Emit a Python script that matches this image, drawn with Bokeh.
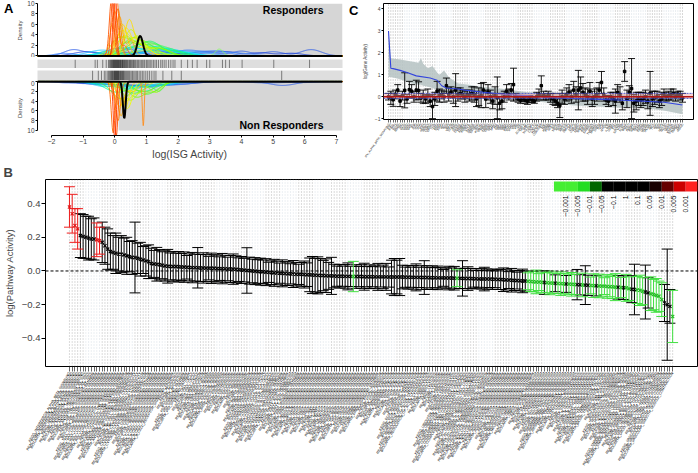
import numpy as np
from bokeh.plotting import figure
from bokeh.models import Range1d, FixedTicker, Span, BoxAnnotation, LinearAxis, Title
from bokeh.layouts import column, row
from bokeh.embed import file_html
from bokeh.resources import INLINE
from bokeh.core.properties import value

FONT = "Liberation Sans"
M = "\u2212"

# ======================= Panel A data =======================
A_x_ticks = [-2, -1, 0, 1, 2, 3, 4, 5, 6, 7]
A_density_ticks = [0, 2, 4, 6, 8, 10]
A_shade_start = 0.12

resp_rug = [-1.25, -0.62, -0.55, -0.38, -0.27, -0.2, -0.17, -0.14, -0.12, -0.1, -0.08, -0.06,
            -0.05, -0.03, -0.02, 0.0, 0.01, 0.03, 0.04, 0.06, 0.07, 0.09, 0.1, 0.12, 0.13, 0.15,
            0.17, 0.18, 0.2, 0.22, 0.24, 0.25, 0.27, 0.29, 0.31, 0.33, 0.35, 0.37, 0.4, 0.42,
            0.45, 0.47, 0.5, 0.52, 0.55, 0.58, 0.6, 0.63, 0.66, 0.7, 0.73, 0.76, 0.8, 0.84,
            0.88, 0.92, 0.95, 1.0, 1.04, 1.08, 1.12, 1.17, 1.22, 1.27, 1.32, 1.38, 1.45, 1.5,
            1.56, 1.62, 1.7, 1.77, 1.84, 1.9, 2.1, 2.3, 2.45, 2.6, 2.9, 3.0, 3.4, 3.5, 3.62,
            4.02, 5.02, 6.15]
nonresp_rug = [-0.7, -0.52, -0.42, -0.33, -0.28, -0.22, -0.19, -0.16, -0.13, -0.11, -0.09,
               -0.07, -0.05, -0.03, -0.01, 0.0, 0.02, 0.03, 0.05, 0.06, 0.08, 0.09, 0.11, 0.12,
               0.14, 0.16, 0.18, 0.2, 0.22, 0.24, 0.26, 0.28, 0.3, 0.33, 0.36, 0.39, 0.42, 0.45,
               0.48, 0.52, 0.56, 0.6, 0.64, 0.68, 0.72, 0.77, 0.82, 0.87, 0.92, 0.98, 1.04, 1.1,
               1.17, 1.24, 1.3, 1.52, 1.8, 2.1, 5.27]

# gene density curves: list of (centre, height, width) bumps per curve
resp_curve_colors = ["#2f5fe8", "#1a3fd9", "#3380ff", "#33a6ff", "#1ac6ff", "#4d94ff",
                     "#00e0ff", "#00f2ff", "#00ffbf", "#00ff99", "#1aff66", "#8cff66",
                     "#33ff4d", "#4dff33", "#66ff1a", "#80ff00", "#99ff00", "#b3ff00",
                     "#bfff00", "#ccff00", "#e6ff00", "#ffee00", "#ffe000", "#ffd500",
                     "#ffa600", "#ff9900", "#ff8000", "#ff6600", "#ff5500", "#ff4d00", "#ff3300"]
resp_curve_bumps = [
    [(-1.3, 1.2, 0.3), (-0.6, 0.6, 0.25), (0.5, 0.7, 0.4), (1.8, 0.6, 0.4), (3.0, 0.6, 0.35),
     (4.0, 0.9, 0.3), (5.0, 0.8, 0.33), (6.2, 1.2, 0.33)],
    [(-0.9, 0.8, 0.4), (1.2, 1.0, 0.5), (2.8, 0.8, 0.4), (3.6, 0.7, 0.3), (4.6, 0.6, 0.35),
     (5.6, 0.5, 0.35)],
    [(-1.6, 0.5, 0.3), (0.2, 1.5, 0.5), (2.3, 1.1, 0.45), (3.3, 0.9, 0.35)],
    [(0.8, 1.4, 0.8), (2.6, 0.6, 0.5)],
    [(-0.4, 1.1, 0.45), (1.5, 1.2, 0.6)],
    [(2.0, 1.0, 0.9), (3.8, 0.5, 0.5)],
    [(1.6, 1.4, 0.55)],
    [(0.5, 1.6, 0.6), (2.2, 0.7, 0.4)],
    [(1.3, 1.8, 0.5), (-0.3, 0.8, 0.3)],
    [(0.9, 2.2, 0.55)],
    [(1.1, 2.8, 0.35), (2.0, 0.8, 0.3)],
    [(3.3, 1.3, 0.12), (1.0, 1.0, 0.5)],
    [(1.0, 2.6, 0.45), (1.8, 0.8, 0.3)],
    [(0.4, 2.5, 0.3), (1.2, 2.2, 0.35)],
    [(0.8, 3.0, 0.4)],
    [(0.6, 3.5, 0.35), (1.5, 1.2, 0.3)],
    [(0.1, 2.8, 0.25), (0.6, 2.5, 0.3), (1.4, 1.5, 0.3)],
    [(0.3, 3.5, 0.25), (0.9, 2.0, 0.3)],
    [(0.7, 3.8, 0.28)],
    [(0.5, 4.8, 0.2), (1.1, 1.5, 0.3)],
    [(0.2, 4.0, 0.2), (0.7, 3.0, 0.3)],
    [(0.35, 5.2, 0.18), (0.9, 1.5, 0.25)],
    [(0.45, 6.5, 0.14), (0.8, 2.0, 0.2)],
    [(0.25, 6.0, 0.15)],
    [(0.15, 7.5, 0.1), (0.5, 3.0, 0.12)],
    [(0.0, 8.5, 0.12)],
    [(0.1, 9.0, 0.09)],
    [(0.05, 12.0, 0.07), (0.3, 2.0, 0.1)],
    [(-0.1, 11.0, 0.07)],
    [(-0.05, 13.0, 0.06)],
    [(0.0, 15.0, 0.05)],
]
resp_isg_curve = [(0.8, 3.8, 0.09)]

nonresp_curve_colors = ["#2f5fe8", "#1a3fd9", "#3380ff", "#4d7fff", "#1ac6ff", "#00e6ff",
                        "#00ffd0", "#00ff99", "#1aff80", "#33ff4d", "#4dff33", "#66ff1a",
                        "#80ff00", "#99ff00", "#aaff00", "#ccff00", "#ffd000", "#f2ff00",
                        "#ffe600", "#ffaa00", "#ff8000", "#ff8c1a", "#ff6a00", "#ff5000", "#ff3300"]
nonresp_curve_bumps = [
    [(-1.0, 0.4, 0.4), (0.3, 0.8, 0.5), (1.5, 0.6, 0.5), (5.3, 0.8, 0.4)],
    [(-0.5, 0.6, 0.5), (1.0, 0.9, 0.6), (2.2, 0.4, 0.5)],
    [(0.6, 1.1, 0.7), (2.0, 0.5, 0.5)],
    [(-1.5, 0.3, 0.3), (4.8, 0.3, 0.5), (6.0, 0.2, 0.4)],
    [(-0.3, 1.0, 0.4), (1.0, 1.2, 0.5)],
    [(0.2, 1.2, 0.6), (1.5, 0.7, 0.4)],
    [(0.5, 1.5, 0.55)],
    [(0.1, 2.2, 0.4)],
    [(0.9, 2.0, 0.4)],
    [(0.6, 2.4, 0.35), (1.4, 1.8, 0.15)],
    [(1.0, 2.6, 0.35)],
    [(0.2, 3.5, 0.3), (1.0, 2.0, 0.25)],
    [(0.7, 3.2, 0.3), (1.3, 1.5, 0.2)],
    [(1.3, 2.2, 0.2), (0.4, 2.0, 0.3)],
    [(0.5, 3.8, 0.25)],
    [(0.3, 4.0, 0.22), (0.8, 2.0, 0.2)],
    [(0.15, 5.0, 0.15), (0.6, 2.0, 0.15)],
    [(0.4, 5.5, 0.15)],
    [(0.3, 6.0, 0.13)],
    [(0.2, 7.0, 0.1)],
    [(0.1, 8.0, 0.08)],
    [(0.9, 9.0, 0.03)],
    [(-0.05, 10.5, 0.06)],
    [(0.05, 11.0, 0.05)],
    [(0.0, 12.0, 0.045)],
]
nonresp_isg_curve = [(0.3, 7.5, 0.045)]

# ======================= Panel B data =======================
B_mean = [
    0.380, 0.340, 0.270, 0.250, 0.210, 0.205, 0.200, 0.195, 0.190, 0.190,
    0.185, 0.180, 0.170, 0.150, 0.130, 0.115, 0.110, 0.105, 0.100, 0.100,
    0.095, 0.090, 0.085, 0.080, 0.080, 0.075, 0.070, 0.065, 0.060, 0.055,
    0.045, 0.042, 0.040, 0.037, 0.034, 0.030, 0.028, 0.027, 0.026, 0.026,
    0.025, 0.024, 0.023, 0.022, 0.021, 0.020, 0.020, 0.019, 0.018, 0.018,
    0.017, 0.017, 0.016, 0.016, 0.015, 0.014, 0.014, 0.013, 0.012, 0.012,
    0.011, 0.010, 0.008, 0.006, 0.005, 0.003, 0.002, 0.000, -0.001, -0.003,
    -0.004, -0.005, -0.007, -0.008, -0.010, -0.011, -0.012, -0.013, -0.014, -0.015,
    -0.016, -0.017, -0.018, -0.019, -0.020, -0.020, -0.021, -0.022, -0.023, -0.024,
    -0.025, -0.026, -0.027, -0.027, -0.028, -0.029, -0.029, -0.030, -0.031, -0.031,
    -0.031, -0.032, -0.032, -0.032, -0.033, -0.033, -0.033, -0.033, -0.034, -0.034,
    -0.034, -0.034, -0.035, -0.035, -0.035, -0.035, -0.035, -0.036, -0.036, -0.036,
    -0.036, -0.036, -0.036, -0.037, -0.037, -0.037, -0.038, -0.038, -0.038, -0.039,
    -0.039, -0.039, -0.040, -0.040, -0.040, -0.041, -0.041, -0.041, -0.042, -0.042,
    -0.042, -0.043, -0.043, -0.044, -0.044, -0.045, -0.045, -0.045, -0.046, -0.046,
    -0.047, -0.047, -0.048, -0.048, -0.048, -0.049, -0.049, -0.050, -0.050, -0.052,
    -0.053, -0.054, -0.055, -0.056, -0.057, -0.058, -0.059, -0.060, -0.061, -0.062,
    -0.064, -0.065, -0.066, -0.067, -0.069, -0.070, -0.071, -0.072, -0.073, -0.074,
    -0.075, -0.076, -0.077, -0.078, -0.079, -0.080, -0.081, -0.082, -0.083, -0.084,
    -0.085, -0.086, -0.087, -0.088, -0.089, -0.090, -0.090, -0.092, -0.093, -0.094,
    -0.096, -0.097, -0.098, -0.099, -0.100, -0.105, -0.108, -0.110, -0.113, -0.115,
    -0.120, -0.125, -0.130, -0.135, -0.140, -0.145, -0.150, -0.170, -0.190, -0.200,
    -0.210, -0.270]
B_err = [
    0.12, 0.115, 0.10, 0.12, 0.13, 0.13, 0.125, 0.13, 0.12, 0.125,
    0.10, 0.08, 0.12, 0.11, 0.12, 0.11, 0.10, 0.12, 0.10, 0.11,
    0.10, 0.11, 0.09, 0.10, 0.21, 0.09, 0.10, 0.08, 0.09, 0.10,
    0.09, 0.08, 0.10, 0.09, 0.08, 0.09, 0.10, 0.08, 0.09, 0.08,
    0.09, 0.08, 0.09, 0.07, 0.08, 0.09, 0.08, 0.12, 0.08, 0.09,
    0.08, 0.07, 0.09, 0.08, 0.08, 0.07, 0.09, 0.08, 0.07, 0.08,
    0.09, 0.08, 0.07, 0.08, 0.07, 0.135, 0.08, 0.07, 0.08, 0.07,
    0.08, 0.07, 0.08, 0.06, 0.07, 0.08, 0.07, 0.06, 0.08, 0.07,
    0.07, 0.06, 0.08, 0.07, 0.06, 0.07, 0.08, 0.07, 0.10, 0.11,
    0.10, 0.11, 0.10, 0.09, 0.10, 0.08, 0.11, 0.07, 0.06, 0.07,
    0.06, 0.07, 0.08, 0.06, 0.09, 0.07, 0.06, 0.07, 0.08, 0.06,
    0.07, 0.06, 0.07, 0.08, 0.06, 0.07, 0.08, 0.06, 0.10, 0.11,
    0.10, 0.11, 0.07, 0.06, 0.07, 0.06, 0.07, 0.08, 0.06, 0.07,
    0.10, 0.07, 0.06, 0.07, 0.06, 0.07, 0.06, 0.05, 0.06, 0.07,
    0.06, 0.07, 0.05, 0.06, 0.105, 0.06, 0.07, 0.06, 0.05, 0.06,
    0.05, 0.06, 0.07, 0.06, 0.05, 0.06, 0.05, 0.06, 0.06, 0.07,
    0.06, 0.05, 0.07, 0.06, 0.05, 0.06, 0.07, 0.06, 0.05, 0.06,
    0.06, 0.07, 0.05, 0.06, 0.07, 0.06, 0.07, 0.06, 0.05, 0.06,
    0.07, 0.06, 0.05, 0.06, 0.07, 0.06, 0.09, 0.06, 0.07, 0.115,
    0.06, 0.05, 0.07, 0.06, 0.07, 0.06, 0.05, 0.07, 0.06, 0.07,
    0.08, 0.07, 0.06, 0.07, 0.08, 0.07, 0.08, 0.15, 0.08, 0.09,
    0.08, 0.16, 0.09, 0.10, 0.09, 0.10, 0.09, 0.10, 0.11, 0.33,
    0.10, 0.155]
B_red = [0, 1, 2, 3, 10, 11]
B_green = [104, 142, 168, 169, 170, 171, 172, 173, 175, 176, 177, 179, 180, 181, 183, 184,
           185, 188, 191, 192, 194, 195, 196, 197, 198, 199, 200, 202, 204, 205, 208, 209,
           210, 213, 214, 215, 216, 217, 221]
B_y_ticks = [-0.4, -0.2, 0.0, 0.2, 0.4]
B_y_labels = [M + "0.4", M + "0.2", "0.0", "0.2", "0.4"]
B_key_labels = [M + "0.001", M + "0.005", M + "0.01", M + "0.05", M + "0.1", "1",
                "0.1", "0.05", "0.01", "0.005", "0.001"]
B_key_colors = ["#44ee33", "#44ee33", "#22dd22", "#006600", "#000000", "#000000",
                "#000000", "#000000", "#1a0000", "#660000", "#cc0000", "#ff2020"]
B_sources = ["KEGG_", "REACTOME_", "BIOCARTA_"]
B_pathways = [
    "INTERFERON_ALPHA_BETA_SIGNALING", "INTERFERON_GAMMA_SIGNALING", "ANTIVIRAL_MECHANISM_BY_ISGS",
    "JAK_STAT_SIGNALING_PATHWAY", "TOLL_LIKE_RECEPTOR_SIGNALING_PATHWAY",
    "RIG_I_LIKE_RECEPTOR_SIGNALING_PATHWAY", "CYTOSOLIC_DNA_SENSING_PATHWAY",
    "ANTIGEN_PROCESSING_AND_PRESENTATION", "NK_CELL_MEDIATED_CYTOTOXICITY",
    "CYTOKINE_CYTOKINE_RECEPTOR_INTERACTION", "CHEMOKINE_SIGNALING_PATHWAY",
    "T_CELL_RECEPTOR_SIGNALING_PATHWAY", "B_CELL_RECEPTOR_SIGNALING_PATHWAY", "APOPTOSIS",
    "P53_SIGNALING_PATHWAY", "CELL_CYCLE", "DNA_REPLICATION", "MISMATCH_REPAIR",
    "BASE_EXCISION_REPAIR", "PROTEASOME", "SPLICEOSOME", "RIBOSOME", "RNA_DEGRADATION",
    "OXIDATIVE_PHOSPHORYLATION", "CITRATE_CYCLE_TCA_CYCLE", "GLYCOLYSIS_GLUCONEOGENESIS",
    "PENTOSE_PHOSPHATE_PATHWAY", "FATTY_ACID_METABOLISM", "PPAR_SIGNALING_PATHWAY",
    "INSULIN_SIGNALING_PATHWAY", "MTOR_SIGNALING_PATHWAY", "MAPK_SIGNALING_PATHWAY",
    "WNT_SIGNALING_PATHWAY", "NOTCH_SIGNALING_PATHWAY", "HEDGEHOG_SIGNALING_PATHWAY",
    "TGF_BETA_SIGNALING_PATHWAY", "VEGF_SIGNALING_PATHWAY", "ERBB_SIGNALING_PATHWAY",
    "FOCAL_ADHESION", "ADHERENS_JUNCTION", "TIGHT_JUNCTION", "GAP_JUNCTION",
    "ECM_RECEPTOR_INTERACTION", "REGULATION_OF_ACTIN_CYTOSKELETON", "ENDOCYTOSIS", "LYSOSOME",
    "PEROXISOME", "UBIQUITIN_MEDIATED_PROTEOLYSIS", "COMPLEMENT_AND_COAGULATION_CASCADES",
    "HEMATOPOIETIC_CELL_LINEAGE", "FC_GAMMA_R_MEDIATED_PHAGOCYTOSIS",
    "LEUKOCYTE_TRANSENDOTHELIAL_MIGRATION", "NOD_LIKE_RECEPTOR_SIGNALING_PATHWAY",
    "ADIPOCYTOKINE_SIGNALING_PATHWAY", "CALCIUM_SIGNALING_PATHWAY",
    "NEUROTROPHIN_SIGNALING_PATHWAY", "GNRH_SIGNALING_PATHWAY", "PURINE_METABOLISM",
    "PYRIMIDINE_METABOLISM", "GLUTATHIONE_METABOLISM", "ARGININE_AND_PROLINE_METABOLISM",
    "TRYPTOPHAN_METABOLISM", "STEROID_BIOSYNTHESIS", "N_GLYCAN_BIOSYNTHESIS",
    "AMINOACYL_TRNA_BIOSYNTHESIS", "BASAL_TRANSCRIPTION_FACTORS", "RNA_POLYMERASE",
    "HOMOLOGOUS_RECOMBINATION", "NUCLEOTIDE_EXCISION_REPAIR",
    "SNARE_INTERACTIONS_VESICULAR_TRANSPORT", "PRIMARY_BILE_ACID_BIOSYNTHESIS",
    "DRUG_METABOLISM_CYTOCHROME_P450", "LONG_TERM_POTENTIATION",
    "VASCULAR_SMOOTH_MUSCLE_CONTRACTION"]

# ======================= Panel C data =======================
C_labels = [
    "IFN_ALPHA_BETA_SIGNALING",
    "IFI27", "IFI44L", "IFIT1", "ISG15", "RSAD2", "MX1", "OAS1", "OAS2", "OAS3", "OASL",
    "IFI6", "IFIT3", "IFIT2", "IFIT5", "IFI44", "HERC5", "HERC6", "CMPK2", "EPSTI1", "LY6E",
    "XAF1", "STAT1", "STAT2", "IRF7", "IRF9", "IRF1", "USP18", "DDX58", "IFIH1", "DDX60",
    "DDX60L", "PARP9", "PARP12", "PARP14", "DTX3L", "SAMD9", "SAMD9L", "EIF2AK2", "BST2", "PLSCR1",
    "TRIM22", "TRIM5", "TRIM21", "TRIM25", "SP100", "SP110", "PML", "GBP1", "GBP2", "GBP4",
    "GBP5", "IFITM1", "IFITM2", "IFITM3", "IFI35", "IFI16", "MX2", "ZC3HAV1", "HELZ2", "RTP4",
    "SIGLEC1", "LAMP3", "CXCL10", "CXCL11", "TNFSF10", "LGALS3BP", "NMI", "TAP1", "PSMB8", "PSMB9",
    "HLA-E", "B2M", "SOCS1", "ADAR", "ISG20", "APOL6", "SLFN5", "UBE2L6", "LAP3", "CD274",
    "LGALS9", "TDRD7", "NT5C3A", "RNF213", "ZNFX1", "TRIM14", "SAMHD1", "CGAS", "TMEM140", "SPATS2L",
    "DHX58", "TLR3", "TLR7", "MYD88", "IL15", "IL15RA", "CASP1", "IFI30", "CD38", "SECTM1",
    "TYMP", "NLRC5", "BATF2", "ETV7", "FBXO6", "PNPT1", "RBCK1", "SP140", "STAT4", "TRIM38",
    "CH25H", "IFNAR1", "IFNAR2", "JAK1", "TYK2", "IRF2", "IRF5", "IRF8", "MOV10", "NCOA7",
    "OGFR", "PHF11", "RNASEL", "SLC15A3", "TRANK1", "ZBP1", "HSH2D"]
C_mean = [
    0.0, -0.05, -0.14, 0.1, 0.3, -0.2, 0.05, 0.29, -0.1, 0.32,
    0.25, 0.0, 0.3, 0.28, -0.05, 0.0, -0.1, 0.05, -0.2, -0.45,
    -0.1, 0.25, 0.05, 0.1, 0.0, 0.5, 0.1, 0.2, 0.0, 0.3,
    0.1, 0.15, 0.1, 0.0, 0.1, 0.05, 0.15, 0.1, -0.1, 0.0,
    0.05, 0.3, -0.1, 0.2, 0.0, -0.2, 0.05, -0.05, -0.3, -0.2,
    0.0, 0.25, 0.1, 0.3, 0.55, 0.0, -0.1, -0.15, -0.1, -0.15,
    -0.2, -0.1, -0.15, -0.2, 0.0, 0.1, 0.5, 0.05, 0.0, 0.05,
    -0.05, -0.1, -0.2, -0.3, -0.4, 0.0, -0.1, 0.1, 0.2, 0.0,
    0.3, 0.1, 0.3, 0.4, 0.2, 0.1, 0.0, 0.25, -0.1, 0.0,
    0.1, 0.3, 0.65, 0.1, -0.15, -0.2, 0.0, -0.1, -0.2, 0.2,
    0.1, -0.3, 1.15, -0.1, 0.2, 0.37, -0.3, -0.2, -0.1, -0.15,
    -0.1, 0.0, -0.2, 0.15, -0.1, -0.05, 0.0, -0.2, -0.1, 0.1,
    0.0, 0.05, 0.1, 0.15, 0.0, 0.1, 0.05, -0.05]
C_err = [
    0.15, 0.3, 0.3, 0.2, 0.25, 0.25, 0.2, 0.8, 0.2, 0.38,
    0.3, 0.25, 0.45, 0.4, 0.2, 0.3, 0.2, 0.3, 0.25, 0.55,
    0.3, 0.45, 0.3, 0.2, 0.25, 0.35, 0.3, 0.25, 0.3, 0.75,
    0.3, 0.25, 0.2, 0.25, 0.2, 0.25, 0.3, 0.35, 0.35, 0.4,
    0.55, 0.35, 0.4, 0.35, 0.3, 0.35, 0.4, 0.95, 0.3, 0.35,
    0.25, 0.3, 0.25, 0.3, 0.75, 0.15, 0.15, 0.15, 0.12, 0.15,
    0.15, 0.15, 0.12, 0.1, 0.2, 0.25, 0.45, 0.2, 0.15, 0.2,
    0.2, 0.25, 0.2, 0.2, 0.55, 0.3, 0.25, 0.3, 0.35, 0.3,
    0.4, 0.35, 0.9, 0.5, 0.4, 0.3, 0.35, 0.4, 0.35, 0.35,
    0.3, 0.35, 0.5, 0.3, 0.2, 0.25, 0.2, 0.3, 0.55, 0.35,
    0.35, 0.3, 0.45, 0.4, 0.3, 1.37, 0.4, 0.4, 0.3, 0.35,
    0.3, 0.3, 0.35, 1.0, 0.35, 0.3, 0.25, 0.3, 0.3, 0.25,
    0.2, 0.2, 0.25, 0.2, 0.2, 0.15, 0.2, 0.2]
C_trend_idx = [0, 1, 2, 5, 8, 12, 18, 21, 23, 25, 30, 33, 41, 51, 60, 64, 73, 84, 99, 110, 119, 127]
C_trend_val = [3.0, 1.3, 1.28, 1.2, 1.1, 0.95, 0.85, 0.75, 0.5, 0.4, 0.35, 0.3, 0.2, 0.1,
               0.05, 0.0, -0.05, -0.1, -0.15, -0.2, -0.25, -0.38]
C_band_idx = [0, 1, 5, 10, 13, 14, 15, 17, 19, 21, 22, 24, 26, 30, 35, 40, 50, 60, 70, 80,
              90, 100, 110, 120, 127]
C_band_hi = [3.05, 1.75, 1.7, 1.6, 1.55, 1.75, 1.5, 1.3, 1.4, 1.1, 1.0, 1.2, 0.9, 0.6, 0.55,
             0.45, 0.35, 0.2, 0.15, 0.1, 0.1, 0.1, 0.08, 0.05, 0.1]
C_band_lo = [0.9, 0.9, 0.8, 0.6, 0.55, 0.55, 0.5, 0.45, 0.4, 0.3, 0.2, 0.15, 0.1, 0.05, 0.0,
             -0.05, -0.1, -0.15, -0.3, -0.4, -0.45, -0.5, -0.5, -0.65, -0.8]
C_null = 0.0
C_null_lo, C_null_hi = -0.08, 0.15
C_y_ticks = [-1, 0, 1, 2, 3, 4]


# ======================= helpers =======================
def density(xs, bumps):
    y = np.zeros_like(xs)
    for c, h, s in bumps:
        y = y + h * np.exp(-0.5 * ((xs - c) / s) ** 2)
    return y


def base(width, height, **kw):
    p = figure(width=width, height=height, output_backend="svg", toolbar_location=None, **kw)
    p.outline_line_color = None
    p.background_fill_color = "white"
    p.border_fill_color = "white"
    p.grid.visible = False
    return p


def style_axis(ax, size, label_size=None):
    ax.major_label_text_font = FONT
    ax.major_label_text_font_size = size
    ax.axis_label_text_font = FONT
    ax.axis_label_text_font_style = "normal"
    if label_size:
        ax.axis_label_text_font_size = label_size
    ax.minor_tick_line_color = None
    ax.minor_tick_out = 0
    ax.minor_tick_in = 0
    ax.major_tick_in = 0
    ax.major_label_standoff = 1
    ax.axis_label_standoff = 2


def panel_letter(p, y, text):
    # panel letter drawn as the single tick label of an outer, line-less left axis
    ax = LinearAxis(ticker=FixedTicker(ticks=[y]), major_label_overrides={y: text})
    ax.major_label_text_font = FONT
    ax.major_label_text_font_style = "bold"
    ax.major_label_text_font_size = "13px"
    ax.major_label_text_color = "black"
    ax.major_tick_line_color = None
    ax.minor_tick_line_color = None
    ax.axis_line_color = None
    ax.major_tick_out = 0
    ax.major_tick_in = 0
    ax.minor_tick_out = 0
    ax.minor_tick_in = 0
    ax.major_label_standoff = 1
    p.add_layout(ax, "left")


# ======================= Panel A =======================
AX0, AX1 = -2.44, 7.19
xrA = Range1d(AX0, AX1)
xs = np.linspace(AX0, AX1, 800)
AW, AL, AR = 345, 37, 3

pA1 = base(AW, 57, x_range=xrA, y_range=Range1d(-0.3, 10), x_axis_location=None,
           min_border_left=AL, min_border_right=AR, min_border_top=3, min_border_bottom=0)
pA1.quad(left=A_shade_start, right=AX1, bottom=0, top=10, fill_color="#d6d6d6", line_color=None)
for col, bumps in zip(resp_curve_colors, resp_curve_bumps):
    pA1.line(xs, density(xs, bumps), line_color=col, line_width=0.9)
pA1.line(xs, density(xs, resp_isg_curve), line_color="black", line_width=2)
pA1.add_layout(Span(location=0, dimension="width", line_color="black", line_width=2))
pA1.text(x=[6.59], y=[8.75], text=["Responders"], text_font=value(FONT),
         text_font_style="bold", text_font_size="10.5px", text_align="right",
         text_baseline="middle")
pA1.yaxis.ticker = FixedTicker(ticks=A_density_ticks)
pA1.yaxis.bounds = (0, 10)
pA1.yaxis.axis_label = "Density"
style_axis(pA1.yaxis[0], "6.5px", "6px")
pA1.yaxis.major_tick_out = 2
pA1.yaxis.axis_label_standoff = 1
panel_letter(pA1, 9.05, "A")

pR1 = base(AW, 11, x_range=xrA, y_range=Range1d(0, 1), x_axis_location=None,
           y_axis_location=None, min_border_left=AL, min_border_right=AR,
           min_border_top=1, min_border_bottom=0)
pR1.background_fill_color = "#dedede"
pR1.segment(x0=resp_rug, x1=resp_rug, y0=0, y1=1, line_color="black", line_alpha=0.45,
            line_width=1)

pR2 = base(AW, 12, x_range=xrA, y_range=Range1d(0, 1), x_axis_location=None,
           y_axis_location=None, min_border_left=AL, min_border_right=AR,
           min_border_top=2, min_border_bottom=0)
pR2.background_fill_color = "#dedede"
pR2.segment(x0=nonresp_rug, x1=nonresp_rug, y0=0, y1=1, line_color="black",
            line_alpha=0.45, line_width=1)

pA2 = base(AW, 82, x_range=xrA, y_range=Range1d(11, -0.2),
           min_border_left=AL, min_border_right=AR, min_border_top=0, min_border_bottom=24)
pA2.quad(left=A_shade_start, right=AX1, bottom=10, top=0, fill_color="#d6d6d6", line_color=None)
for col, bumps in zip(nonresp_curve_colors, nonresp_curve_bumps):
    pA2.line(xs, density(xs, bumps), line_color=col, line_width=0.9)
pA2.line(xs, density(xs, nonresp_isg_curve), line_color="black", line_width=2)
pA2.add_layout(Span(location=0, dimension="width", line_color="black", line_width=2))
pA2.text(x=[6.59], y=[8.8], text=["Non Responders"], text_font=value(FONT),
         text_font_style="bold", text_font_size="10.5px", text_align="right",
         text_baseline="middle")
pA2.yaxis.ticker = FixedTicker(ticks=A_density_ticks)
pA2.yaxis.bounds = (0, 10)
pA2.yaxis.axis_label = "Density"
style_axis(pA2.yaxis[0], "6.5px", "6px")
pA2.yaxis.major_tick_out = 2
pA2.yaxis.axis_label_standoff = 1
pA2.xaxis.ticker = FixedTicker(ticks=A_x_ticks)
pA2.xaxis.bounds = (-2, 7)
pA2.xaxis.major_label_overrides = {t: (M + str(-t) if t < 0 else str(t)) for t in A_x_ticks}
pA2.xaxis.axis_label = "log(ISG Activity)"
style_axis(pA2.xaxis[0], "7px", "10.5px")
pA2.xaxis.major_tick_out = 2
pA2.xaxis.axis_label_standoff = 1

colA = column(pA1, pR1, pR2, pA2, spacing=0)

# ======================= Panel C =======================
CN = len(C_mean)
cx = list(range(CN))
CX0, CX1, CY0, CY1 = -2.16, 131.75, -1.04, 4.25
pC = base(353, 162, x_range=Range1d(CX0, CX1), y_range=Range1d(CY0, CY1),
          min_border_left=38, min_border_right=5, min_border_top=3, min_border_bottom=43)
pC.outline_line_color = "black"
dark = [i for i in cx if (i // 7) % 2 == 0]
light = [i for i in cx if (i // 7) % 2 == 1]
pC.segment(x0=dark, x1=dark, y0=CY0, y1=CY1, line_color="#8f8f8f", line_dash="1 2",
           line_width=0.7)
pC.segment(x0=light, x1=light, y0=CY0, y1=CY1, line_color="#c3cfd8", line_dash="1 2",
           line_width=0.7)
pC.varea(x=C_band_idx, y1=C_band_lo, y2=C_band_hi, fill_color="#b5c2c2", fill_alpha=0.85)
pC.add_layout(BoxAnnotation(bottom=C_null_lo, top=C_null_hi, fill_color="#f2a0a0",
                            fill_alpha=0.45, line_color=None))
pC.add_layout(Span(location=C_null_hi, dimension="width", line_color="#3344cc",
                   line_dash="2 1", line_width=0.8))
pC.add_layout(Span(location=C_null_lo, dimension="width", line_color="#3344cc",
                   line_dash="2 1", line_width=0.8))
pC.add_layout(Span(location=C_null, dimension="width", line_color="#b01515", line_width=1.6))
clo = [m - e for m, e in zip(C_mean, C_err)]
chi = [m + e for m, e in zip(C_mean, C_err)]
pC.segment(x0=cx, x1=cx, y0=clo, y1=chi, line_color="black", line_width=0.9)
pC.segment(x0=[i - 1.5 for i in cx], x1=[i + 1.5 for i in cx], y0=clo, y1=clo,
           line_color="black", line_width=0.9)
pC.segment(x0=[i - 1.5 for i in cx], x1=[i + 1.5 for i in cx], y0=chi, y1=chi,
           line_color="black", line_width=0.9)
pC.scatter(cx, C_mean, marker="square", size=2.5, color="black")
pC.line(C_trend_idx, C_trend_val, line_color="#3344dd", line_width=1.1)
pC.yaxis.ticker = FixedTicker(ticks=C_y_ticks)
pC.yaxis.major_label_overrides = {t: (M + str(-t) if t < 0 else str(t)) for t in C_y_ticks}
pC.yaxis.axis_label = "log(Gene Activity)"
style_axis(pC.yaxis[0], "5px", "4.5px")
pC.yaxis.major_tick_out = 2
pC.yaxis.axis_line_color = None
pC.yaxis.axis_label_standoff = 4
panel_letter(pC, 4.16, "C")
pC.xaxis.ticker = FixedTicker(ticks=cx)
pC.xaxis.major_label_overrides = {i: C_labels[i] for i in cx}
pC.xaxis.major_label_orientation = 0.96
style_axis(pC.xaxis[0], "2.8px")
pC.xaxis.major_label_text_color = "black"
pC.xaxis.major_tick_out = 3
pC.xaxis.major_tick_line_width = 0.6
pC.xaxis.axis_line_color = None

top = row(colA, pC, spacing=0)

# ======================= Panel B =======================
BN = len(B_mean)
bx = list(range(BN))
BX0, BX1, BY0, BY1 = -8.78, 230.1, -0.567, 0.543
pB = base(698, 311, x_range=Range1d(BX0, BX1), y_range=Range1d(BY0, BY1),
          min_border_left=44, min_border_right=1, min_border_top=17, min_border_bottom=107)
pB.outline_line_color = "black"
pB.add_layout(Title(text="B", align="left", offset=-42, standoff=0, text_font=FONT,
                    text_font_style="bold", text_font_size="13px"), "above")
dark = [i for i in bx if (i // 6) % 2 == 0]
light = [i for i in bx if (i // 6) % 2 == 1]
pB.segment(x0=dark, x1=dark, y0=BY0, y1=BY1, line_color="#9a9a9a", line_dash="1 2",
           line_width=0.7)
pB.segment(x0=light, x1=light, y0=BY0, y1=BY1, line_color="#c8d3dc", line_dash="1 2",
           line_width=0.7)
pB.add_layout(Span(location=0, dimension="width", line_color="black", line_dash="3 2",
                   line_width=1))

groups = {"k": [], "g": [], "r": []}
for i in bx:
    if i in B_red:
        groups["r"].append(i)
    elif i in B_green:
        groups["g"].append(i)
    else:
        groups["k"].append(i)
bar_col = {"k": "black", "g": "#3fdf3f", "r": "#ee1c1c"}
mark_col = {"k": "black", "g": "#22bb22", "r": "#e01010"}
CAP = 2.0
for key in ["k", "g", "r"]:
    ii = groups[key]
    lo = [B_mean[i] - B_err[i] for i in ii]
    hi = [B_mean[i] + B_err[i] for i in ii]
    pB.segment(x0=ii, x1=ii, y0=lo, y1=hi, line_color=bar_col[key], line_width=1)
    pB.segment(x0=[i - CAP for i in ii], x1=[i + CAP for i in ii], y0=lo, y1=lo,
               line_color=bar_col[key], line_width=1)
    pB.segment(x0=[i - CAP for i in ii], x1=[i + CAP for i in ii], y0=hi, y1=hi,
               line_color=bar_col[key], line_width=1)
for key in ["k", "g", "r"]:
    ii = groups[key]
    pB.scatter(ii, [B_mean[i] for i in ii], marker="x", size=4.5, line_color=mark_col[key],
               line_width=1.1)

# significance key
KX0, KCELL = 177.5, 4.39
kx = [KX0 + (j + 0.5) * KCELL for j in range(len(B_key_colors))]
pB.rect(x=kx, y=0.5015, width=KCELL, height=0.059, fill_color=B_key_colors, line_color=None)
pB.text(x=[KX0 + (j + 1) * KCELL for j in range(len(B_key_labels))], y=0.448,
        text=B_key_labels, angle=np.pi / 2, text_align="right", text_baseline="middle",
        text_font=value(FONT), text_font_size="6.8px", text_color="black")

pB.yaxis.ticker = FixedTicker(ticks=B_y_ticks)
pB.yaxis.major_label_overrides = dict(zip(B_y_ticks, B_y_labels))
pB.yaxis.axis_label = "log(Pathway Activity)"
style_axis(pB.yaxis[0], "9.5px", "9.5px")
pB.yaxis.major_tick_out = 4
pB.yaxis.major_label_standoff = 1
pB.yaxis.axis_label_standoff = 4
pB.yaxis.axis_line_color = None
B_labels = [B_sources[i % 3] + B_pathways[i // 3] for i in bx]
pB.xaxis.ticker = FixedTicker(ticks=bx)
pB.xaxis.major_label_overrides = {i: B_labels[i] for i in bx}
pB.xaxis.major_label_orientation = np.pi / 3
style_axis(pB.xaxis[0], "3.5px")
pB.xaxis.major_label_text_color = "black"
pB.xaxis.major_tick_out = 5
pB.xaxis.major_tick_line_width = 0.6
pB.xaxis.axis_line_color = None

layout = column(top, pB, spacing=0)
open("out.html", "w").write(file_html(layout, INLINE))
